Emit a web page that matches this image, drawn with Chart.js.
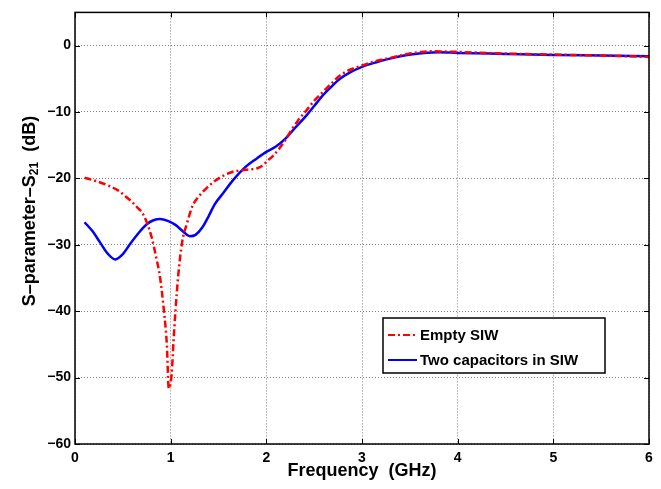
<!DOCTYPE html>
<html>
<head>
<meta charset="utf-8">
<script src="https://cdn.jsdelivr.net/npm/chart.js@4/dist/chart.umd.min.js"></script>
<style>
    html, body { margin: 0; padding: 0; background: #fff; }
    #wrap { width: 661px; height: 489px; position: relative; }
</style>
</head>
<body>
<div id="wrap"><canvas id="s21Chart"></canvas></div>
<script>
// frequency in GHz, S21 in dB
const freqEmpty = [0.1, 0.22, 0.35, 0.45, 0.52, 0.6, 0.66, 0.7, 0.75, 0.8, 0.85, 0.89, 0.93, 0.96, 0.98, 1.01, 1.03, 1.05, 1.08, 1.12, 1.17, 1.23, 1.3, 1.38, 1.46, 1.55, 1.65, 1.78, 1.9, 1.96, 2.0, 2.07, 2.13, 2.2, 2.25, 2.33, 2.42, 2.5, 2.59, 2.68, 2.77, 2.88, 3.0, 3.15, 3.28, 3.4, 3.5, 3.62, 3.75, 3.9, 4.0, 4.5, 5.0, 5.5, 6.0];
const s21Empty = [-19.9, -20.4, -21.1, -21.8, -22.6, -23.6, -24.5, -25.1, -26.6, -28.8, -32.0, -35.0, -40.0, -45.0, -51.6, -49.5, -44.5, -40.0, -34.5, -29.6, -26.8, -24.1, -22.6, -21.4, -20.4, -19.6, -19.0, -18.7, -18.5, -18.1, -17.5, -16.6, -15.6, -14.2, -13.0, -11.3, -9.75, -8.3, -7.0, -5.7, -4.5, -3.6, -3.0, -2.3, -1.9, -1.5, -1.2, -0.95, -0.85, -0.9, -0.95, -1.2, -1.35, -1.5, -1.7];

const freqCaps = [0.1, 0.18, 0.26, 0.34, 0.42, 0.5, 0.57, 0.66, 0.75, 0.82, 0.89, 0.97, 1.05, 1.13, 1.2, 1.26, 1.33, 1.4, 1.46, 1.55, 1.65, 1.78, 1.9, 2.0, 2.1, 2.2, 2.3, 2.42, 2.5, 2.59, 2.68, 2.77, 2.88, 3.0, 3.15, 3.28, 3.4, 3.53, 3.65, 3.81, 4.0, 4.5, 5.0, 5.5, 6.0];
const s21Caps = [-26.6, -27.9, -29.6, -31.3, -32.2, -31.4, -30.0, -28.3, -26.9, -26.3, -26.1, -26.4, -27.0, -28.0, -28.7, -28.5, -27.4, -25.6, -23.9, -22.2, -20.3, -18.3, -17.0, -16.0, -15.2, -14.0, -12.4, -10.5, -9.1, -7.5, -6.2, -5.0, -4.0, -3.2, -2.5, -2.0, -1.6, -1.3, -1.1, -1.0, -1.1, -1.25, -1.4, -1.5, -1.6];

const seriesLabels = ['Empty SIW', 'Two capacitors in SIW'];
const xTicks = [0, 1, 2, 3, 4, 5, 6];
const yTicks = [-60, -50, -40, -30, -20, -10, 0];

const fontFamily = '"Liberation Sans", Arial, Helvetica, sans-serif';

const toPoints = (xs, ys) => xs.map((x, i) => ({ x, y: ys[i] }));
const formatTick = (value) => (value < 0 ? '\u2212' + Math.abs(value) : String(value));

// y axis title with a real subscript, drawn by hand
const yTitlePlugin = {
    id: 'yTitle',
    afterDraw(chart) {
        const { ctx } = chart;
        const parts = [
            { text: 'S\u2013parameter\u2013S', size: 18, shift: 0 },
            { text: '21', size: 12, shift: 5 },
            { text: '  (dB)', size: 18, shift: 0 },
        ];
        ctx.save();
        let total = 0;
        parts.forEach((part) => {
            ctx.font = `bold ${part.size}px ${fontFamily}`;
            part.width = ctx.measureText(part.text).width;
            total += part.width;
        });
        ctx.translate(30, 211);
        ctx.rotate(-Math.PI / 2);
        ctx.fillStyle = '#000';
        ctx.textBaseline = 'middle';
        ctx.textAlign = 'left';
        let pos = -total / 2;
        parts.forEach((part) => {
            ctx.font = `bold ${part.size}px ${fontFamily}`;
            ctx.fillText(part.text, pos, part.shift);
            pos += part.width;
        });
        ctx.restore();
    },
};

// box round the plot and MATLAB style inward tick marks
const frameAndTicks = {
    id: 'frameAndTicks',
    afterDatasetsDraw(chart) {
        const { ctx, chartArea: area, scales } = chart;
        const len = 5;
        ctx.save();
        ctx.strokeStyle = '#000';
        ctx.lineWidth = 1;
        ctx.beginPath();
        xTicks.forEach((value) => {
            const px = Math.round(scales.x.getPixelForValue(value)) + 0.5;
            ctx.moveTo(px, area.bottom);
            ctx.lineTo(px, area.bottom - len);
            ctx.moveTo(px, area.top);
            ctx.lineTo(px, area.top + len);
        });
        yTicks.forEach((value) => {
            const py = Math.round(scales.y.getPixelForValue(value)) + 0.5;
            ctx.moveTo(area.left, py);
            ctx.lineTo(area.left + len, py);
            ctx.moveTo(area.right, py);
            ctx.lineTo(area.right - len, py);
        });
        ctx.stroke();
        ctx.lineWidth = 1.5;
        ctx.strokeRect(area.left, area.top, area.right - area.left, area.bottom - area.top);
        ctx.restore();
    },
};

// legend box inside the plot, lower right
const insideLegend = {
    id: 'insideLegend',
    afterDraw(chart) {
        const { ctx } = chart;
        const box = { left: 383, top: 318, width: 222, height: 55 };
        ctx.save();
        ctx.fillStyle = '#fff';
        ctx.fillRect(box.left, box.top, box.width, box.height);
        ctx.strokeStyle = '#000';
        ctx.lineWidth = 1.5;
        ctx.strokeRect(box.left, box.top, box.width, box.height);
        chart.data.datasets.forEach((dataset, index) => {
            const y = box.top + 17 + index * 25;
            ctx.strokeStyle = dataset.borderColor;
            ctx.lineWidth = 2;
            ctx.setLineDash(dataset.borderDash || []);
            ctx.beginPath();
            ctx.moveTo(box.left + 5, y);
            ctx.lineTo(box.left + 34, y);
            ctx.stroke();
            ctx.setLineDash([]);
            ctx.fillStyle = '#000';
            ctx.font = `bold 15px ${fontFamily}`;
            ctx.textBaseline = 'middle';
            ctx.fillText(dataset.label, box.left + 37, y + 1);
        });
        ctx.restore();
    },
};

const chart = new Chart(document.getElementById('s21Chart').getContext('2d'), {
    type: 'line',
    data: {
        datasets: [
            {
                label: seriesLabels[0],
                data: toPoints(freqEmpty, s21Empty),
                borderColor: '#ff0000',
                borderWidth: 2.5,
                borderDash: [7, 3, 2, 3],
                pointRadius: 0,
                cubicInterpolationMode: 'monotone',
                fill: false,
            },
            {
                label: seriesLabels[1],
                data: toPoints(freqCaps, s21Caps),
                borderColor: '#0000ff',
                borderWidth: 2.5,
                pointRadius: 0,
                cubicInterpolationMode: 'monotone',
                fill: false,
            },
        ],
    },
    options: {
        responsive: true,
        maintainAspectRatio: false,
        animation: false,
        layout: {
            padding: { top: 8, right: 12, bottom: 0, left: 0 },
        },
        plugins: {
            legend: { display: false },
            tooltip: { enabled: false },
        },
        scales: {
            x: {
                type: 'linear',
                min: 0,
                max: 6,
                afterBuildTicks(scale) {
                    scale.ticks = xTicks.map((value) => ({ value }));
                },
                afterFit(scale) {
                    scale.height = 45;
                },
                grid: {
                    color: 'rgba(0, 0, 0, 0.5)',
                    lineWidth: 1,
                    drawTicks: false,
                },
                border: { display: false, dash: [1, 2] },
                ticks: {
                    color: '#000',
                    padding: 6,
                    font: { family: fontFamily, size: 14, weight: 'bold' },
                    callback: (value) => formatTick(value),
                },
                title: {
                    display: true,
                    text: 'Frequency  (GHz)',
                    color: '#000',
                    padding: { top: 0, bottom: 7 },
                    font: { family: fontFamily, size: 18, weight: 'bold' },
                },
            },
            y: {
                type: 'linear',
                min: -60,
                max: 5,
                afterBuildTicks(scale) {
                    scale.ticks = yTicks.map((value) => ({ value }));
                },
                afterFit(scale) {
                    scale.width = 75;
                },
                grid: {
                    color: 'rgba(0, 0, 0, 0.5)',
                    lineWidth: 1,
                    drawTicks: false,
                },
                border: { display: false, dash: [1, 2] },
                ticks: {
                    color: '#000',
                    padding: 4,
                    font: { family: fontFamily, size: 14, weight: 'bold' },
                    callback: (value) => formatTick(value),
                },
            },
        },
    },
    plugins: [frameAndTicks, yTitlePlugin, insideLegend],
});
</script>
</body>
</html>
